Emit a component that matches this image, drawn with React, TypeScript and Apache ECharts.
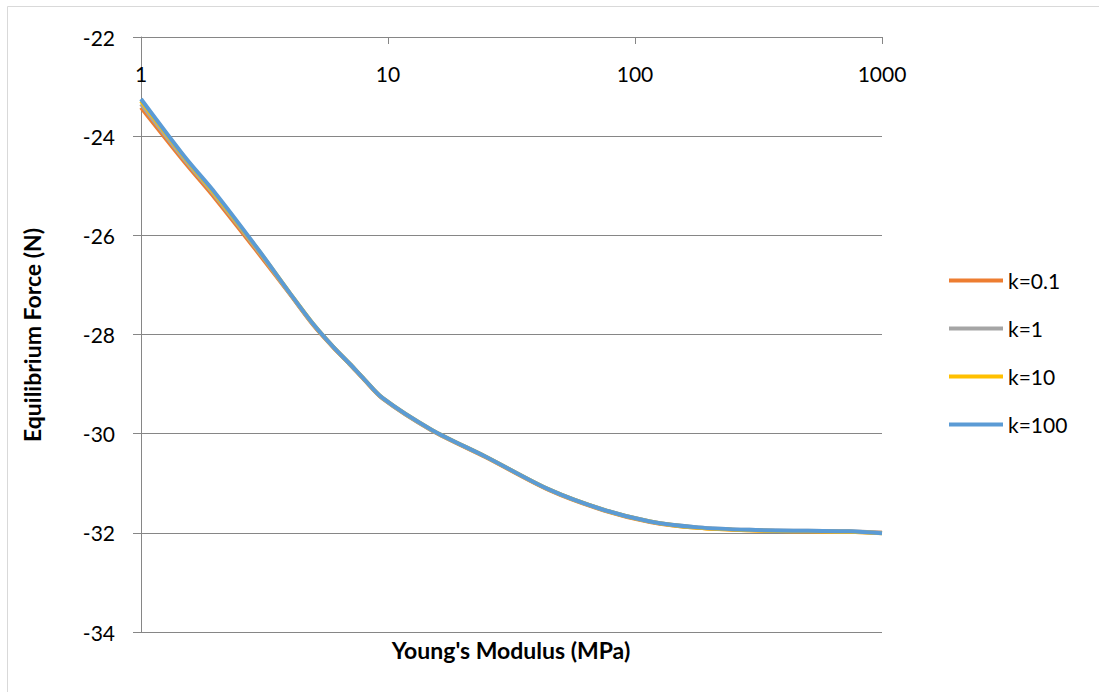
import React, { useEffect, useRef } from "react";
import * as echarts from "echarts";

const xValues = [1, 1.5, 2, 3, 4, 5, 6, 7, 8, 9.5, 15, 25, 45, 75, 115, 180, 290, 500, 740, 1000];
const k01 = [-23.42, -24.52, -25.26, -26.37, -27.18, -27.82, -28.26, -28.6, -28.91, -29.29, -29.93, -30.48, -31.14, -31.55, -31.78, -31.9, -31.95, -31.97, -31.98, -32.0];
const k1 = [-23.35, -24.47, -25.21, -26.33, -27.17, -27.81, -28.25, -28.6, -28.9, -29.29, -29.93, -30.47, -31.13, -31.54, -31.77, -31.89, -31.94, -31.96, -31.97, -32.0];
const k10 = [-23.29, -24.43, -25.18, -26.31, -27.16, -27.8, -28.25, -28.59, -28.9, -29.28, -29.92, -30.47, -31.13, -31.54, -31.77, -31.9, -31.95, -31.97, -31.98, -32.01];
const k100 = [-23.25, -24.41, -25.15, -26.3, -27.16, -27.8, -28.25, -28.59, -28.9, -29.28, -29.92, -30.47, -31.13, -31.54, -31.77, -31.89, -31.94, -31.96, -31.97, -32.01];

const seriesNames = ["k=0.1", "k=1", "k=10", "k=100"];
const seriesColors = ["#ED7D31", "#A5A5A5", "#FFC000", "#5B9BD5"];
const seriesValues = [k01, k1, k10, k100];

const xTitle = "Young's Modulus (MPa)";
const yTitle = "Equilibrium Force (N)";

const FONT = "Lato";

export default function App() {
  const ref = useRef<HTMLDivElement>(null);
  useEffect(() => {
    if (!ref.current) return;
    const chart = echarts.init(ref.current, undefined, { renderer: "svg" });
    chart.setOption({
      animation: false,
      backgroundColor: "#fff",
      grid: { left: 141, right: 217, top: 37, bottom: 60 },
      xAxis: {
        type: "log",
        logBase: 10,
        min: 1,
        max: 1000,
        position: "top",
        axisLine: { show: true, lineStyle: { color: "#868686", width: 1 } },
        axisTick: { show: true, inside: true, length: 7, lineStyle: { color: "#868686" } },
        minorTick: { show: false },
        axisLabel: {
          inside: true,
          margin: 26,
          color: "#000",
          fontFamily: FONT,
          fontSize: 21,
          formatter: (v: number) => String(Math.round(v)),
        },
        splitLine: { show: false },
      },
      yAxis: {
        type: "value",
        min: -34,
        max: -22,
        interval: 2,
        axisLine: { show: true, lineStyle: { color: "#868686", width: 1 } },
        axisTick: { show: true, length: 8, lineStyle: { color: "#868686" } },
        axisLabel: { margin: 26, color: "#000", fontFamily: FONT, fontSize: 21 },
        splitLine: { show: true, lineStyle: { color: "#868686", width: 1 } },
      },
      legend: {
        orient: "vertical",
        left: 944,
        top: 264,
        icon: "rect",
        itemWidth: 54,
        itemHeight: 4,
        itemGap: 25,
        textStyle: { color: "#000", fontFamily: FONT, fontSize: 21, lineHeight: 23 },
        data: seriesNames,
      },
      series: seriesNames.map((name, i) => ({
        name,
        type: "line",
        symbol: "none",
        smooth: 0.3,
        color: seriesColors[i],
        lineStyle: { width: 4, color: seriesColors[i] },
        data: xValues.map((x, j) => [x, seriesValues[i][j]]),
      })),
      graphic: [
        {
          type: "rect",
          shape: { x: 7.5, y: 6.5, width: 1200, height: 800 },
          style: { fill: "none", stroke: "#D9D9D9", lineWidth: 1 },
          silent: true,
        },
        {
          type: "text",
          x: 511,
          y: 650,
          style: {
            text: xTitle,
            fontFamily: FONT,
            fontSize: 23,
            fontWeight: "bold",
            fill: "#000",
            align: "center",
            verticalAlign: "middle",
          },
        },
        {
          type: "text",
          x: 32,
          y: 335,
          rotation: Math.PI / 2,
          style: {
            text: yTitle,
            fontFamily: FONT,
            fontSize: 23,
            fontWeight: "bold",
            fill: "#000",
            align: "center",
            verticalAlign: "middle",
          },
        },
      ],
    });
    return () => chart.dispose();
  }, []);
  return (
    <div
      ref={ref}
      style={{ position: "absolute", left: 0, top: 0, width: 1099, height: 692 }}
    />
  );
}
